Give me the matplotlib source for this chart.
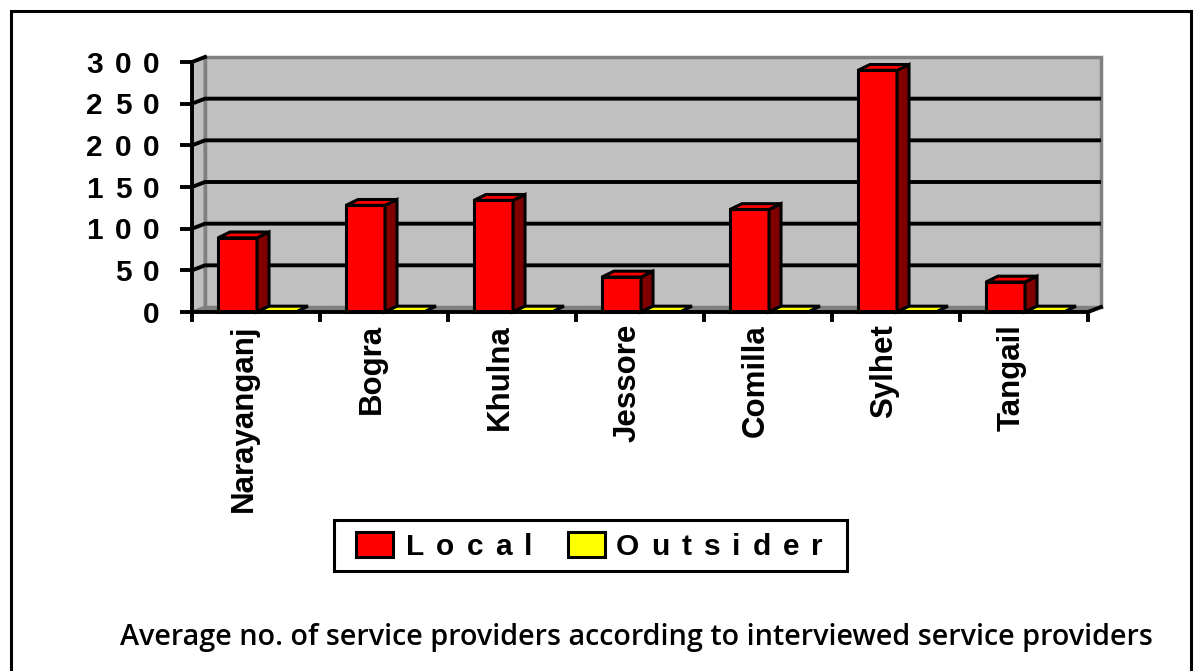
import matplotlib
matplotlib.use('Agg')
import matplotlib.pyplot as plt
from matplotlib.patches import Polygon, Rectangle
from matplotlib.font_manager import FontProperties
from matplotlib.transforms import IdentityTransform

# data
districts = ['Narayanganj', 'Bogra', 'Khulna', 'Jessore', 'Comilla', 'Sylhet', 'Tangail']
local = [89, 128, 134, 42, 123, 290, 36]
outsider = [0, 0, 0, 0, 0, 0, 0]
y_ticks = [0, 50, 100, 150, 200, 250, 300]
series_names = ['Local', 'Outsider']
title = 'Average no. of service providers according to interviewed service providers'

W, H = 1200, 671
fig = plt.figure(figsize=(W / 100, H / 100), dpi=100)
fig.patch.set_facecolor('white')

n = len(districts)
ymax = y_ticks[-1]
# front plane of the 3-D box
ax = fig.add_axes([192 / W, 1 - 312 / H, 896 / W, 250 / H])
ax.set_xlim(0, n)
ax.set_ylim(0, ymax)
ax.axis('off')

# depth offset of the box (data units)
DX = 13 / 128
DY = 6.0
GRID_LW = 2.8
EDGE_LW = 2.2

bold = FontProperties(family='Liberation Sans', weight='bold', size=21.5)
cat_font = FontProperties(family='Liberation Sans', weight='bold', size=22.5)
renderer = fig.canvas.get_renderer()


def tracked(x, y, s, fp, track, ha='left', va='baseline'):
    """Draw text with extra letter spacing, in display pixels."""
    widths = [renderer.get_text_width_height_descent(ch, fp, ismath=False)[0] for ch in s]
    total = sum(widths) + track * (len(s) - 1)
    if ha == 'right':
        x -= total
    for ch, w in zip(s, widths):
        fig.text(x, y, ch, transform=IdentityTransform(), fontproperties=fp,
                 ha='left', va=va)
        x += w + track


# walls and floor
ax.add_patch(Polygon([(0, 0), (DX, DY), (DX, ymax + DY), (0, ymax)], closed=True,
                     fc='#c0c0c0', ec='#808080', lw=2, clip_on=False, zorder=1))
ax.add_patch(Rectangle((DX, DY), n, ymax, fc='#c0c0c0', ec='#808080', lw=2.5,
                       clip_on=False, zorder=1))
ax.add_patch(Polygon([(0, 0), (n, 0), (n + DX, DY), (DX, DY)], closed=True,
                     fc='#808080', ec='#808080', lw=1, clip_on=False, zorder=1))

# gridlines running across the left and back walls
tick_len = 12 / 128
for v in y_ticks:
    if 0 < v < ymax:
        ax.plot([0, DX, n + DX], [v, v + DY, v + DY], color='black', lw=GRID_LW,
                clip_on=False, zorder=2, solid_capstyle='butt')
    ax.plot([-tick_len, 0], [v, v], color='black', lw=GRID_LW, clip_on=False,
            zorder=5, solid_capstyle='butt')
ax.plot([0, DX], [ymax, ymax + DY], color='black', lw=GRID_LW, clip_on=False, zorder=2)


def bar3d(x0, w, h, face, side):
    bdx, bdy = 12 / 128, 7.0
    kw = dict(ec='black', lw=EDGE_LW, clip_on=False, zorder=3, joinstyle='miter')
    if h > 0:
        ax.add_patch(Rectangle((x0, 0), w, h, fc=face, **kw))
        ax.add_patch(Polygon([(x0 + w, 0), (x0 + w + bdx, bdy), (x0 + w + bdx, h + bdy),
                              (x0 + w, h)], closed=True, fc=side, **kw))
    ax.add_patch(Polygon([(x0, h), (x0 + w, h), (x0 + w + bdx, h + bdy),
                          (x0 + bdx, h + bdy)], closed=True, fc=face, **kw))


bar_w = 39 / 128
for i in range(n):
    bar3d(i + 26 / 128, bar_w, local[i], '#ff0000', '#800000')
    bar3d(i + 26 / 128 + bar_w, bar_w, outsider[i], '#ffff00', '#808000')

# front axis lines and category ticks
ax.plot([0, 0], [0, ymax], color='black', lw=GRID_LW, clip_on=False, zorder=5)
ax.plot([0, n], [0, 0], color='black', lw=GRID_LW, clip_on=False, zorder=5)
for i in range(n + 1):
    ax.plot([i, i], [0, -9.6], color='black', lw=GRID_LW, clip_on=False, zorder=5)
ax.plot([n, n + DX], [0, DY], color='black', lw=GRID_LW, clip_on=False, zorder=5)

# value labels with wide letter spacing
for v in y_ticks:
    px, py = ax.transData.transform((0, v))
    tracked(px - 32, py - 10.7, str(v), bold, 12, ha='right')

# district labels
for i, name in enumerate(districts):
    px, py = ax.transData.transform((i + 0.5, 0))
    fig.text(px - 12, py - 12, name, rotation=90, ha='center', va='top',
             transform=IdentityTransform(), fontproperties=cat_font)

# legend box
ident = IdentityTransform()
fig.patches.append(Rectangle((334, H - 571), 513, 51, fc='white', ec='black', lw=EDGE_LW,
                             transform=ident, figure=fig))
fig.patches.append(Rectangle((356, H - 557), 37, 25, fc='#ff0000', ec='black', lw=EDGE_LW,
                             transform=ident, figure=fig))
fig.patches.append(Rectangle((568, H - 557), 37, 25, fc='#ffff00', ec='black', lw=EDGE_LW,
                             transform=ident, figure=fig))
tracked(406, H - 555, series_names[0], bold, 12)
tracked(823, H - 555, series_names[1], bold, 12, ha='right')

# caption
fig.text(636, H - 637, title, ha='center', va='center', transform=ident,
         family='Open Sans', weight='semibold', size=20.7)

# outer frame
fig.patches.append(Rectangle((11, -20), 1180, H - 11 + 20, fc='none', ec='black', lw=EDGE_LW,
                             transform=ident, figure=fig))

fig.savefig('out.png', dpi=100)
